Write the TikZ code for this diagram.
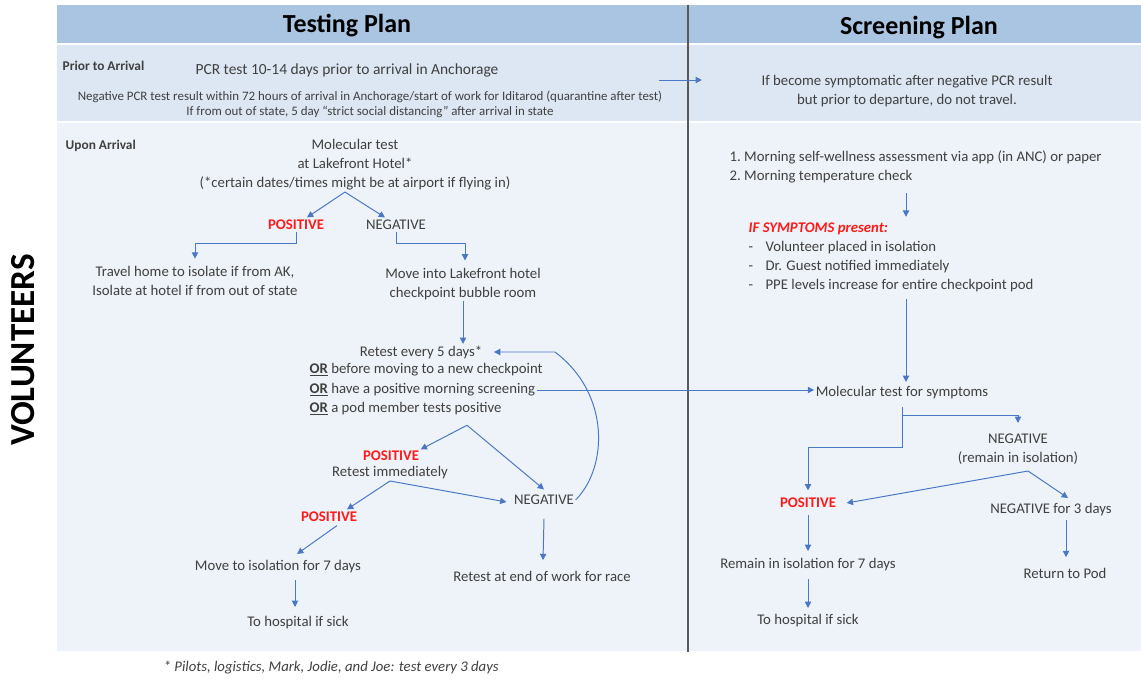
\documentclass[tikz,border=0pt]{standalone}
\usepackage{fontspec}
\setmainfont{Carlito}
\usetikzlibrary{arrows.meta,calc}
\definecolor{PlanHead}{HTML}{A9C5E2}
\definecolor{PlanPrior}{HTML}{DCE7F3}
\definecolor{PlanBody}{HTML}{EEF3F9}
\definecolor{PlanRule}{HTML}{595959}
\definecolor{PlanText}{HTML}{404040}
\definecolor{PlanArrow}{HTML}{4A77C6}
\definecolor{PlanRed}{HTML}{FF1A1A}

\begin{document}
\begin{tikzpicture}[x=0.025cm, y=-0.025cm,
    txt/.style={text=PlanText, font=\fontsize{10.5}{13.5}\selectfont, inner sep=1pt, align=center},
    smalltxt/.style={txt, font=\fontsize{9.2}{10.7}\selectfont},
    rowlabel/.style={txt, font=\fontsize{9.5}{11}\selectfont\bfseries, anchor=west},
    result/.style={txt, text=PlanRed, font=\fontsize{10.5}{13.5}\selectfont\bfseries},
    headtxt/.style={text=black, font=\fontsize{18.5}{20}\selectfont\bfseries},
    arr/.style={draw=PlanArrow, line width=0.7pt, -{Triangle[length=4.5pt,width=4.5pt]}}]
        \useasboundingbox (0,0) rectangle (1141,681);
        % table bands
        \fill[PlanHead] (57,5) rectangle (1141,44);
        \fill[PlanPrior] (57,44) rectangle (1141,122);
        \fill[PlanBody] (57,122) rectangle (1141,651);
        \draw[white, line width=1pt] (57,44) -- (1141,44) (57,122) -- (1141,122);
        \draw[PlanRule, line width=0.9pt] (688,5) -- (688,652);
        \node[headtxt] (testhead) at (347,26) {Testing Plan};
        \node[headtxt] (screenhead) at (919,28) {Screening Plan};
        \node[rotate=90, font=\fontsize{25}{28}\selectfont\bfseries] (vol) at (23,350) {VOLUNTEERS};
        % prior to arrival
        \node[rowlabel] (priorlbl) at (61,66) {Prior to Arrival};
        \node[txt, font=\fontsize{11}{13.5}\selectfont] (pcr) at (347,70) {PCR test 10-14 days prior to arrival in Anchorage};
        \node[smalltxt] (neg72) at (370,104)
          {Negative PCR test result within 72 hours of arrival in Anchorage/start of work for Iditarod (quarantine after test)\\
           If from out of state, 5 day “strict social distancing” after arrival in state};
        \node[txt] (symp) at (907,91)
          {If become symptomatic after negative PCR result\\but prior to departure, do not travel.};
        \coordinate (priorout) at (659,80);
        \draw[arr] (priorout) -- ($(priorout -| symp.west)+(-58,0)$);
        % upon arrival, testing side
        \node[rowlabel] (uponlbl) at (64,146) {Upon Arrival};
        \node[txt] (mol) at (355,165)
          {Molecular test\\at Lakefront Hotel*\\(*certain dates/times might be at airport if flying in)};
        \node[result] (pos1) at (296,225) {POSITIVE};
        \node[txt] (neg1) at (396,225) {NEGATIVE};
        \node[txt] (home) at (195,281) {Travel home to isolate if from AK,\\Isolate at hotel if from out of state};
        \node[txt] (lake) at (463,284) {Move into Lakefront hotel\\checkpoint bubble room};
        \node[txt] (retest) at (421,352) {Retest every 5 days*};
        \node[txt, anchor=west] (or1) at (308,370) {\underline{\textbf{OR}} before moving to a new checkpoint};
        \node[txt, anchor=west] (or2) at (308,390) {\underline{\textbf{OR}} have a positive morning screening};
        \node[txt, anchor=west] (or3) at (308,409) {\underline{\textbf{OR}} a pod member tests positive};
        \node[result] (posB) at (391,456) {POSITIVE};
        \node[txt] (retim) at (390,473) {Retest immediately};
        \node[txt] (negB) at (544,500) {NEGATIVE};
        \node[result] (posC) at (329,517) {POSITIVE};
        \node[txt] (iso7) at (278,567) {Move to isolation for 7 days};
        \node[txt] (hosp1) at (298,623) {To hospital if sick};
        \node[txt] (endrace) at (542,576) {Retest at end of work for race};
        \coordinate (molsplit) at ($(mol.south)+(-10,0)$);
        \draw[arr] (molsplit) -- ($(pos1.north)+(11,-1)$);
        \draw[arr] (molsplit) -- ($(neg1.north)+(-11,-1)$);
        \draw[arr] (pos1.south) -- ++(0,12) -| ($(home.north)+(0,-6)$);
        \draw[arr] (neg1.south) -- ++(0,12) -| ($(lake.north)+(2,-6)$);
        \draw[arr] (lake.south) -- (lake.south |- retest.north);
        % loop back from negative
        \coordinate (looptop) at ($(retest.east)+(71,0)$);
        \draw[arr] (negB.east) .. controls ($(negB.east)+(32,-32)$) and ($(looptop)+(56,42)$) .. (looptop)
          -- ($(retest.east)+(10,0)$);
        \coordinate (orsplit) at ($(or3.south -| lake.south)+(4,8)$);
        \draw[arr] (orsplit) -- (posB.north east);
        \draw[arr] (orsplit) -- ($(negB.north)+(0,-4)$);
        \draw[arr] (retim.south) -- ($(posC.north)+(18,-1)$);
        \draw[arr] (retim.south) -- ($(negB.west)+(-6,2)$);
        \draw[arr] ($(posC.south)+(8,2)$) -- ($(iso7.north)+(19,-5)$);
        \draw[arr] ($(iso7.south -| hosp1.north)+(-3,5)$) -- ($(hosp1.north)+(-3,-8)$);
        \draw[arr] ($(negB.south)+(0,12)$) -- ($(endrace.north)+(1,-9)$);
        % screening side
        \node[txt, align=left, anchor=west] (morning) at (728,167)
          {1.\ Morning self-wellness assessment via app (in ANC) or paper\\2.\ Morning temperature check};
        \node[txt, align=left, anchor=west] (symptoms) at (747,257)
          {\textcolor{PlanRed}{\textbf{\textit{IF SYMPTOMS present:}}}\\
           \makebox[12pt][l]{-}Volunteer placed in isolation\\
           \makebox[12pt][l]{-}Dr. Guest notified immediately\\
           \makebox[12pt][l]{-}PPE levels increase for entire checkpoint pod};
        \node[txt] (molsym) at (902,393) {Molecular test for symptoms};
        \node[txt] (negR) at (1018,449) {NEGATIVE\\(remain in isolation)};
        \node[result] (posR) at (808,503) {POSITIVE};
        \node[txt] (negR3) at (1051,510) {NEGATIVE for 3 days};
        \node[txt] (rem7) at (808,565) {Remain in isolation for 7 days};
        \node[txt] (hosp2) at (808,621) {To hospital if sick};
        \node[txt] (retpod) at (1065,573) {Return to Pod};
        \draw[arr] (or2.east) -- (or2.east -| molsym.west);
        \draw[arr] ($(morning.south -| molsym.north)+(4,8)$) -- ($(symptoms.north -| molsym.north)+(4,-4)$);
        \draw[arr] ($(symptoms.south -| molsym.north)+(4,6)$) -- ($(molsym.north)+(4,-3)$);
        \draw[arr] ($(molsym.south)+(0,6)$) -- ++(0,40) -| ($(posR.north)+(0,-6)$);
        \draw[arr] ($(molsym.south)+(0,14)$) -| ($(negR.north)+(0,-9)$);
        \draw[arr] ($(negR.south)+(10,5)$) -- ($(posR.east)+(9,0)$);
        \draw[arr] ($(negR.south)+(10,5)$) -- ($(negR3.north)+(17,-4)$);
        \draw[arr] ($(posR.south)+(0,5)$) -- ($(rem7.north)+(0,-6)$);
        \draw[arr] ($(rem7.south)+(0,6)$) -- ($(hosp2.north)+(0,-5)$);
        \draw[arr] ($(negR3.south -| retpod.north)+(1,2)$) -- ($(retpod.north)+(1,-9)$);
        % footnote
        \node[txt, font=\fontsize{10.5}{12}\selectfont\itshape, anchor=west] (foot) at (162,668)
          {* Pilots, logistics, Mark, Jodie, and Joe: test every 3 days};
      \end{tikzpicture}
\end{document}
